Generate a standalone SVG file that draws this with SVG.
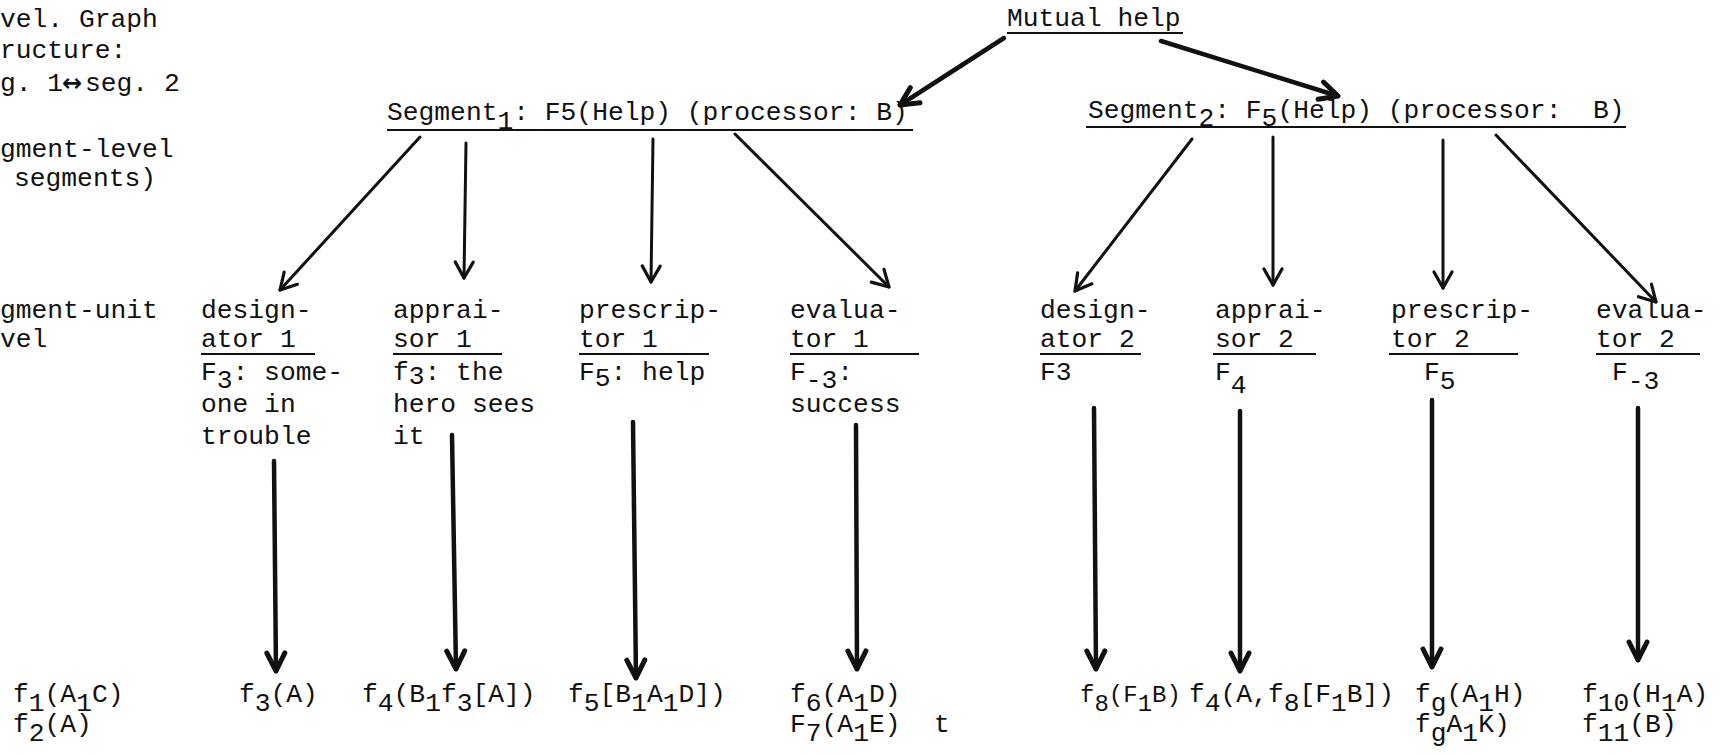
<svg xmlns="http://www.w3.org/2000/svg" width="1720" height="755" viewBox="0 0 1720 755">
<defs>
<style>
text{font-family:"Liberation Mono","DejaVu Sans Mono",monospace;font-size:26.3px;fill:#111;white-space:pre}
.ul{stroke:#111;stroke-width:2}
.c{stroke:#111;fill:none;stroke-linecap:round}
.thin{stroke-width:3;marker-end:url(#ah)}
.thick{stroke-width:4.5;marker-end:url(#ahb)}
.arr{font-family:"DejaVu Sans",sans-serif;font-weight:bold;font-size:24px}
</style>
<marker id="ah" markerUnits="userSpaceOnUse" viewBox="-22 -14 26 28" markerWidth="26" markerHeight="28" refX="0" refY="0" orient="auto">
<path d="M-16,-9 L0,0 L-16,9" fill="none" stroke="#111" stroke-width="3.2" stroke-linecap="round" stroke-linejoin="round"/>
</marker>
<marker id="ahb" markerUnits="userSpaceOnUse" viewBox="-24 -14 28 28" markerWidth="28" markerHeight="28" refX="0" refY="0" orient="auto">
<path d="M-18,-9 L0,0 L-18,9" fill="none" stroke="#111" stroke-width="5" stroke-linecap="round" stroke-linejoin="round"/>
</marker>
</defs>
<rect width="1720" height="755" fill="#fff"/>

<g id="legend">
<text x="0" y="27">vel. Graph</text>
<text x="0" y="58">ructure:</text>
<text x="0" y="91">g. 1<tspan class="arr" x="62">↔</tspan><tspan x="85">seg. 2</tspan></text>
<text x="0" y="157">gment-level</text>
<text x="14" y="186">segments)</text>
<text x="0" y="318">gment-unit</text>
<text x="0" y="347">vel</text>
</g>

<g id="mutual-help">
<text x="1007" y="26">Mutual help</text>
<line class="ul" x1="1007" y1="33" x2="1183" y2="33"/>
</g>

<g id="segment1">
<text x="387" y="120">Segment<tspan dy="9">1</tspan><tspan dy="-9">: F5(Help) (processor: B)</tspan></text>
<line class="ul" x1="387" y1="130" x2="913" y2="130"/>
</g>

<g id="segment2">
<text x="1088" y="118">Segment<tspan dy="8">2</tspan><tspan dy="-8">: F</tspan><tspan dy="8">5</tspan><tspan dy="-8">(Help) (processor:  B)</tspan></text>
<line class="ul" x1="1086" y1="127" x2="1626" y2="127"/>
</g>

<g id="designator1">
<text x="201" y="318">design-</text>
<text x="201" y="347">ator 1</text>
<line class="ul" x1="201" y1="354" x2="315" y2="354"/>
<text x="201" y="380">F<tspan dy="8">3</tspan><tspan dy="-8">: some-</tspan></text>
<text x="201" y="412">one in</text>
<text x="201" y="444">trouble</text>
</g>

<g id="appraisor1">
<text x="393" y="318">apprai-</text>
<text x="393" y="347">sor 1</text>
<line class="ul" x1="393" y1="354" x2="502" y2="354"/>
<text x="393" y="380">f<tspan dy="4">3</tspan><tspan dy="-4">: the</tspan></text>
<text x="393" y="412">hero sees</text>
<text x="393" y="444">it</text>
</g>

<g id="prescriptor1">
<text x="579" y="318">prescrip-</text>
<text x="579" y="347">tor 1</text>
<line class="ul" x1="579" y1="354" x2="709" y2="354"/>
<text x="579" y="380">F<tspan dy="6">5</tspan><tspan dy="-6">: help</tspan></text>
</g>

<g id="evaluator1">
<text x="790" y="318">evalua-</text>
<text x="790" y="347">tor 1</text>
<line class="ul" x1="790" y1="354" x2="919" y2="354"/>
<text x="790" y="380">F<tspan dy="8">-3</tspan><tspan dy="-8">:</tspan></text>
<text x="790" y="412">success</text>
</g>

<g id="designator2">
<text x="1040" y="318">design-</text>
<text x="1040" y="347">ator 2</text>
<line class="ul" x1="1040" y1="354" x2="1141" y2="354"/>
<text x="1040" y="380">F3</text>
</g>

<g id="appraisor2">
<text x="1215" y="318">apprai-</text>
<text x="1215" y="347">sor 2</text>
<line class="ul" x1="1213" y1="354" x2="1316" y2="354"/>
<text x="1215" y="380">F<tspan dy="13">4</tspan></text>
</g>

<g id="prescriptor2">
<text x="1391" y="318">prescrip-</text>
<text x="1391" y="347">tor 2</text>
<line class="ul" x1="1389" y1="354" x2="1518" y2="354"/>
<text x="1424" y="380">F<tspan dy="9">5</tspan></text>
</g>

<g id="evaluator2">
<text x="1596" y="318">evalua-</text>
<text x="1596" y="347">tor 2</text>
<line class="ul" x1="1596" y1="354" x2="1700" y2="354"/>
<text x="1612" y="380">F<tspan dy="9">-3</tspan></text>
</g>

<g id="leaf-f1">
<text x="13" y="702">f<tspan dy="9">1</tspan><tspan dy="-9">(A</tspan><tspan dy="9">1</tspan><tspan dy="-9">C)</tspan></text>
<text x="13" y="732">f<tspan dy="9">2</tspan><tspan dy="-9">(A)</tspan></text>
</g>
<g id="leaf-f3">
<text x="239" y="702">f<tspan dy="9">3</tspan><tspan dy="-9">(A)</tspan></text>
</g>
<g id="leaf-f4a">
<text x="362" y="702">f<tspan dy="9">4</tspan><tspan dy="-9">(B</tspan><tspan dy="9">1</tspan><tspan dy="-9">f</tspan><tspan dy="9">3</tspan><tspan dy="-9">[A])</tspan></text>
</g>
<g id="leaf-f5">
<text x="568" y="702">f<tspan dy="9">5</tspan><tspan dy="-9">[B</tspan><tspan dy="9">1</tspan><tspan dy="-9">A</tspan><tspan dy="9">1</tspan><tspan dy="-9">D])</tspan></text>
</g>
<g id="leaf-f6">
<text x="790" y="702">f<tspan dy="9">6</tspan><tspan dy="-9">(A</tspan><tspan dy="9">1</tspan><tspan dy="-9">D)</tspan></text>
<text x="790" y="732">F<tspan dy="9">7</tspan><tspan dy="-9">(A</tspan><tspan dy="9">1</tspan><tspan dy="-9">E)</tspan><tspan x="934">t</tspan></text>
</g>
<g id="leaf-f8">
<text x="1080" y="702" style="font-size:24px">f<tspan dy="9">8</tspan><tspan dy="-9">(F</tspan><tspan dy="9">1</tspan><tspan dy="-9">B)</tspan></text>
</g>
<g id="leaf-f4b">
<text x="1189" y="702">f<tspan dy="9">4</tspan><tspan dy="-9">(A,f</tspan><tspan dy="9">8</tspan><tspan dy="-9">[F</tspan><tspan dy="9">1</tspan><tspan dy="-9">B])</tspan></text>
</g>
<g id="leaf-fg">
<text x="1415" y="702">f<tspan dy="9">g</tspan><tspan dy="-9">(A</tspan><tspan dy="9">1</tspan><tspan dy="-9">H)</tspan></text>
<text x="1415" y="732">f<tspan dy="9">g</tspan><tspan dy="-9">A</tspan><tspan dy="9">1</tspan><tspan dy="-9">K)</tspan></text>
</g>
<g id="leaf-f10">
<text x="1582" y="702">f<tspan dy="9">10</tspan><tspan dy="-9">(H</tspan><tspan dy="9">1</tspan><tspan dy="-9">A)</tspan></text>
<text x="1582" y="732">f<tspan dy="9">11</tspan><tspan dy="-9">(B)</tspan></text>
</g>

<g id="connectors">
<line class="c thick" x1="1004" y1="38" x2="900" y2="105"/>
<line class="c thick" x1="1161" y1="41" x2="1338" y2="96"/>
<line class="c thin" x1="420" y1="137" x2="280" y2="290"/>
<line class="c thin" x1="466" y1="143" x2="464" y2="278"/>
<line class="c thin" x1="653" y1="139" x2="651" y2="282"/>
<line class="c thin" x1="735" y1="134" x2="889" y2="287"/>
<line class="c thin" x1="1192" y1="139" x2="1075" y2="291"/>
<line class="c thin" x1="1273" y1="137" x2="1273" y2="285"/>
<line class="c thin" x1="1443" y1="140" x2="1443" y2="288"/>
<line class="c thin" x1="1496" y1="135" x2="1656" y2="302"/>
<line class="c thick" x1="274" y1="461" x2="276" y2="671"/>
<line class="c thick" x1="452" y1="435" x2="456" y2="669"/>
<line class="c thick" x1="633" y1="422" x2="636" y2="678"/>
<line class="c thick" x1="856" y1="425" x2="857" y2="669"/>
<line class="c thick" x1="1094" y1="408" x2="1096" y2="669"/>
<line class="c thick" x1="1240" y1="411" x2="1240" y2="671"/>
<line class="c thick" x1="1432" y1="400" x2="1432" y2="667"/>
<line class="c thick" x1="1638" y1="408" x2="1638" y2="660"/>
</g>
</svg>
